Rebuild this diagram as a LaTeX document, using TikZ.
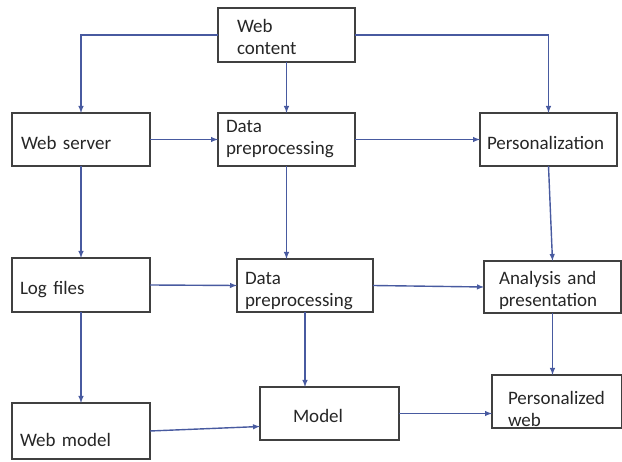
\documentclass[tikz,border=0pt]{standalone}
\usepackage{fontspec}
\setmainfont{Carlito}
\usepackage{tikz}
\usetikzlibrary{positioning,calc}
\definecolor{linkblue}{RGB}{72,90,160}
\definecolor{boxgrey}{RGB}{64,64,64}

\begin{document}
\begin{tikzpicture}[x=1pt,y=-1pt,every node/.style={outer sep=0pt}]
\tikzstyle{box}=[draw=boxgrey,line width=1.6pt,anchor=north west,inner ysep=0pt,
align=left,text=black!85,font=\fontsize{19}{22}\selectfont]
\tikzstyle{link}=[-latex,draw=linkblue,line width=1.4pt]
\useasboundingbox (0,0) rectangle (622,462);
% top row
\node (wc) [box,inner xsep=19pt,text width=99pt,text height=25pt,text depth=29pt]
at (218,8) {Web\\content};
\node (ws) [box,inner xsep=9pt,text width=120pt,text height=37pt,text depth=16pt]
at (12,113) {Web server};
\node (dp1) [box,inner xsep=8pt,text width=121pt,text height=20pt,text depth=33pt]
at (218,113) {Data\\preprocessing};
\node (pers) [box,inner xsep=7pt,text width=123pt,text height=37pt,text depth=16pt]
at (480,113) {Personalization};
% middle row
\node (lf) [box,inner xsep=8pt,text width=122pt,text height=37pt,text depth=17pt]
at (12,258) {Log files};
\node (dp2) [box,inner xsep=8pt,text width=120pt,text height=26pt,text depth=27pt]
at (237,259) {Data\\preprocessing};
\node (an) [box,inner xsep=15pt,text width=107pt,text height=24pt,text depth=28pt]
at (484,261) {Analysis and\\presentation};
% bottom row
\node (wm) [box,inner xsep=8pt,text width=122pt,text height=44pt,text depth=12pt]
at (12,403) {Web model};
\node (mo) [box,inner xsep=33pt,text width=73pt,text height=36pt,text depth=17pt]
at (260,387) {Model};
\node (pw) [box,inner xsep=16pt,text width=98pt,text height=30pt,text depth=23pt]
at (492,375) {Personalized\\web};
%
\draw [link] (wc.west) -| (ws.north);
\draw [link] (wc.south) -- (dp1.north);
\draw [link] (wc.east) -| (pers.north);
\draw [link] (ws.east) -- (dp1.west);
\draw [link] (dp1.east) -- (pers.west);
\draw [link] (ws.south) -- (lf.north);
\draw [link] (dp1.south) -- (dp1.south |- dp2.north);
\draw [link] (pers.south) -- (an.north);
\draw [link] (lf.east) -- (dp2.west);
\draw [link] (dp2.east) -- (an.west);
\draw [link] (lf.south) -- (wm.north);
\draw [link] (dp2.south) -- (dp2.south |- mo.north);
\draw [link] (wm.east) -- ($(mo.west)+(0,13)$);
\draw [link] (mo.east) -- (mo.east -| pw.west);
\draw [link] (an.south) -- (an.south |- pw.north);
\end{tikzpicture}
\end{document}
